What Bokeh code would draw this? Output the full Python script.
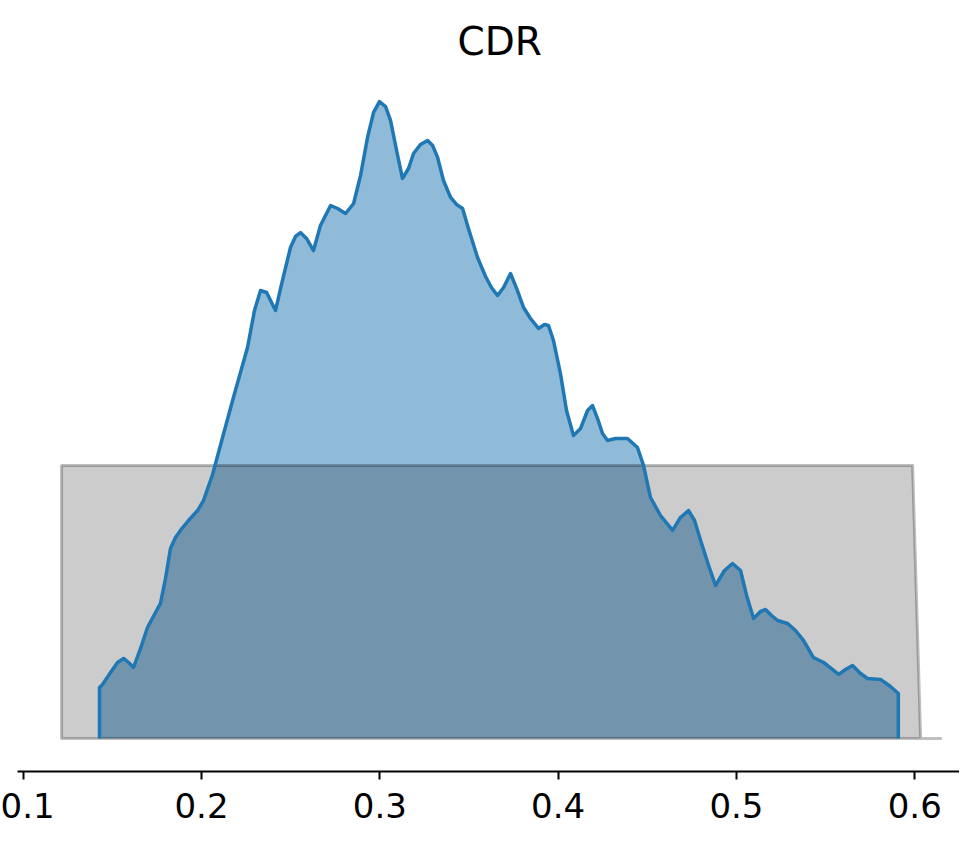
from bokeh.plotting import figure
from bokeh.models import Range1d, FixedTicker
from bokeh.embed import file_html
from bokeh.resources import INLINE

# title and x ticks
title_text = "CDR"
tick_values = [0.1, 0.2, 0.3, 0.4, 0.5, 0.6]

# posterior KDE (x value, density)
post_x = [0.1428, 0.1445, 0.1490, 0.1529, 0.1563, 0.1591, 0.1619, 0.1658, 0.1697, 0.1742,
          0.1770, 0.1798, 0.1826, 0.1854, 0.1882, 0.1927, 0.1978, 0.2011, 0.2062, 0.2118,
          0.2179, 0.2258, 0.2297, 0.2331, 0.2365, 0.2415, 0.2454, 0.2499, 0.2527, 0.2555,
          0.2589, 0.2628, 0.2667, 0.2724, 0.2763, 0.2808, 0.2853, 0.2892, 0.2931, 0.2965,
          0.2998, 0.3032, 0.3060, 0.3094, 0.3127, 0.3161, 0.3189, 0.3228, 0.3268, 0.3296,
          0.3324, 0.3357, 0.3397, 0.3430, 0.3464, 0.3497, 0.3548, 0.3593, 0.3626, 0.3660,
          0.3694, 0.3733, 0.3767, 0.3806, 0.3845, 0.3890, 0.3924, 0.3946, 0.3974, 0.4013,
          0.4047, 0.4086, 0.4126, 0.4165, 0.4193, 0.4221, 0.4249, 0.4277, 0.4322, 0.4389,
          0.4445, 0.4479, 0.4518, 0.4574, 0.4642, 0.4686, 0.4731, 0.4765, 0.4799, 0.4844,
          0.4883, 0.4933, 0.4978, 0.5023, 0.5057, 0.5096, 0.5135, 0.5163, 0.5197, 0.5231,
          0.5287, 0.5331, 0.5376, 0.5432, 0.5489, 0.5533, 0.5573, 0.5612, 0.5651, 0.5696,
          0.5735, 0.5808, 0.5864, 0.5908]
post_y = [0.389, 0.411, 0.503, 0.579, 0.610, 0.579, 0.541, 0.686, 0.846, 0.960,
          1.029, 1.219, 1.448, 1.531, 1.585, 1.661, 1.737, 1.813, 2.011, 2.293,
          2.598, 2.979, 3.261, 3.413, 3.398, 3.261, 3.490, 3.741, 3.825, 3.855,
          3.810, 3.718, 3.909, 4.061, 4.038, 4.000, 4.076, 4.290, 4.579, 4.770,
          4.853, 4.815, 4.709, 4.480, 4.267, 4.343, 4.457, 4.526, 4.556, 4.518,
          4.427, 4.251, 4.122, 4.069, 4.038, 3.886, 3.665, 3.520, 3.436, 3.375,
          3.436, 3.543, 3.429, 3.284, 3.200, 3.124, 3.154, 3.147, 3.032, 2.781,
          2.499, 2.309, 2.362, 2.499, 2.537, 2.438, 2.324, 2.270, 2.286, 2.286,
          2.217, 2.080, 1.836, 1.699, 1.585, 1.684, 1.737, 1.661, 1.509, 1.318,
          1.166, 1.280, 1.333, 1.280, 1.090, 0.914, 0.968, 0.983, 0.937, 0.899,
          0.876, 0.823, 0.747, 0.617, 0.579, 0.533, 0.488, 0.526, 0.556, 0.495,
          0.457, 0.450, 0.396, 0.343]

# prior (flat) outline
prior_x = [0.1215, 0.1215, 0.5988, 0.6033, 0.6145]
prior_y = [0.0, 2.08, 2.08, 0.0, 0.0]

p = figure(width=959, height=830, output_backend="svg", toolbar_location=None,
           x_range=Range1d(0.0968, 0.6251), y_range=Range1d(-0.2514, 4.998),
           y_axis_location=None,
           min_border_left=17, min_border_right=0, min_border_top=82, min_border_bottom=59)

# closed shape of the posterior, down to zero at both ends
shape_x = [post_x[0]] + post_x + [post_x[-1]]
shape_y = [0.0] + post_y + [0.0]

p.patch(shape_x, shape_y, fill_color="#1f77b4", fill_alpha=0.5, line_color=None)
p.patch(prior_x, prior_y, fill_color="black", fill_alpha=0.2,
        line_color="black", line_alpha=0.25, line_width=3, line_join="round")
p.line(shape_x, shape_y, line_color="#1f77b4", line_width=3.5, line_join="round")

p.title.text = title_text
p.title.align = "left"
p.title.vertical_align = "top"
p.title.offset = 440
p.title.standoff = 34
p.title.text_font = "DejaVu Sans"
p.title.text_font_size = "39px"
p.title.text_font_style = "normal"
p.title.text_color = "black"

p.xaxis.ticker = FixedTicker(ticks=tick_values)
p.xaxis.minor_tick_line_color = None
p.xaxis.axis_line_width = 2
p.xaxis.axis_line_color = "black"
p.xaxis.major_tick_line_width = 2
p.xaxis.major_tick_line_color = "black"
p.xaxis.major_tick_in = 0
p.xaxis.major_tick_out = 8
p.xaxis.major_label_standoff = 13
p.xaxis.major_label_text_font = "DejaVu Sans"
p.xaxis.major_label_text_font_size = "34px"
p.xaxis.major_label_text_color = "black"

p.grid.visible = False
p.outline_line_color = None
p.background_fill_color = "white"
p.border_fill_color = "white"

open("out.html", "w").write(file_html(p, INLINE))
